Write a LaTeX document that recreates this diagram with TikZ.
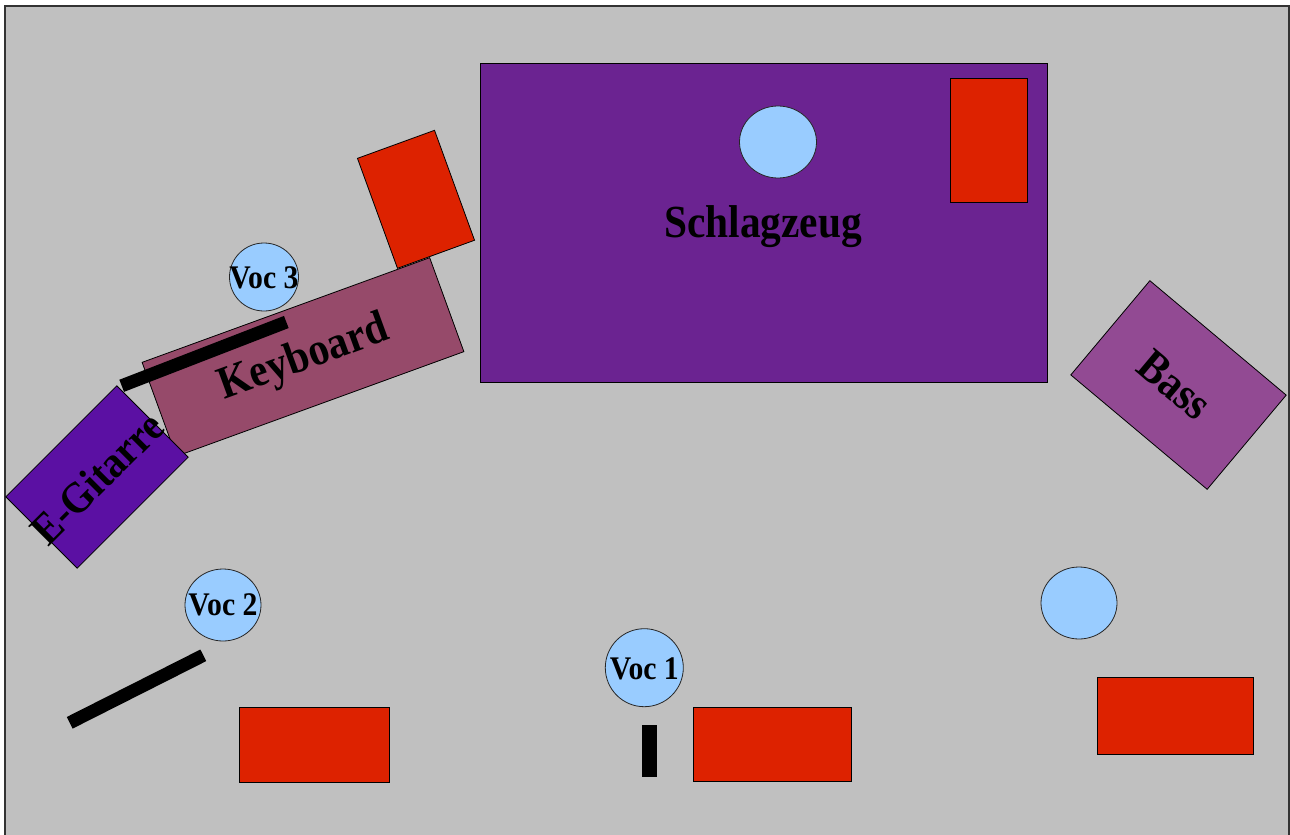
\documentclass[tikz,border=0pt]{standalone}
\usepackage{fontspec}
\setmainfont{Liberation Serif}
\usepackage{graphicx}
\usetikzlibrary{shapes.geometric}
\definecolor{bggray}{HTML}{C0C0C0}
\definecolor{drumpurple}{HTML}{6B2391}
\definecolor{ampred}{HTML}{DD2200}
\definecolor{kbcol}{HTML}{964A6A}
\definecolor{gitcol}{HTML}{5B10A3}
\definecolor{basscol}{HTML}{924A93}
\definecolor{headblue}{HTML}{99CCFF}
\tikzset{
  box/.style={draw=black, line width=0.8pt, inner sep=0pt, rectangle},
  amp/.style={box, fill=ampred},
  head/.style={draw=black!85, line width=0.8pt, ellipse, fill=headblue, inner sep=0pt},
  bigtext/.style={font=\bfseries\fontsize{46}{46}\selectfont, inner sep=0pt},
  voctext/.style={font=\bfseries\fontsize{33}{33}\selectfont, inner sep=0pt},
  micbar/.style={line width=13pt, black},
}
\newcommand{\sq}[1]{\scalebox{0.9}[1]{#1}}
\begin{document}
\begin{tikzpicture}[x=1pt,y=-1pt]
\useasboundingbox (0,0) rectangle (1290,835);
\fill[white] (0,0) rectangle (1290,835);
\draw[fill=bggray, draw=black!80, line width=1.2pt] (5,6) rectangle (1289,845);

% Drums
\node[box, fill=drumpurple, minimum width=567pt, minimum height=319pt] (drums) at (763.5,222.5) {};
\node[head, minimum width=77pt, minimum height=72pt] (drumhead) at (778,142) {};
\node[amp, minimum width=77pt, minimum height=124pt] (drumamp) at (988.5,140) {};
\node[bigtext] (drumlabel) at (763,227) {\sq{Schlagzeug}};

% Keyboard area
\node[amp, minimum width=82pt, minimum height=117pt, rotate=20] (kbamp) at (416,199.3) {};
\node[box, fill=kbcol, minimum width=306pt, minimum height=100pt, rotate=20] (kb) at (303,357) {};
\node[bigtext, rotate=20] (kblabel) at (304,359) {\sq{Keyboard}};
\node[head, minimum width=69pt, minimum height=68pt] (voc3) at (264,277) {};
\node[voctext] (voc3label) at (264,278) {\sq{Voc 3}};
\node[box, fill=gitcol, minimum width=157pt, minimum height=101pt, rotate=45] (git) at (97,477) {};
\node[bigtext, font=\bfseries\fontsize{44}{44}\selectfont, rotate=45] (gitlabel) at (97,478) {\sq{E-Gitarre}};
\coordinate (kbbarA) at (121.7,385.8);
\coordinate (kbbarB) at (286.3,322);
\draw[micbar] (kbbarA) -- (kbbarB);

% Bass
\node[box, fill=basscol, minimum width=178pt, minimum height=123pt, rotate=-40] (bass) at (1178.5,385) {};
\node[bigtext, rotate=-40] (basslabel) at (1175,385) {\sq{Bass}};

% Voc 2
\node[head, minimum width=76pt, minimum height=72pt] (voc2) at (223,605) {};
\node[voctext] (voc2label) at (223,605) {\sq{Voc 2}};
\coordinate (v2barA) at (69.7,722.8);
\coordinate (v2barB) at (203.3,655.3);
\draw[micbar] (v2barA) -- (v2barB);
\node[amp, minimum width=150pt, minimum height=75pt] (amp2) at (314,744.5) {};

% Voc 1
\node[head, minimum width=78pt, minimum height=78pt] (voc1) at (644.3,667.7) {};
\node[voctext] (voc1label) at (644.3,669) {\sq{Voc 1}};
\node[rectangle, fill=black, minimum width=15pt, minimum height=52pt, inner sep=0pt] (v1bar) at (649.5,751) {};
\node[amp, minimum width=158pt, minimum height=74pt] (amp1) at (772,744) {};

% Right side
\node[head, minimum width=76pt, minimum height=72pt] (rhead) at (1079,603) {};
\node[amp, minimum width=156pt, minimum height=77pt] (ampr) at (1175,715.5) {};
\end{tikzpicture}
\end{document}
